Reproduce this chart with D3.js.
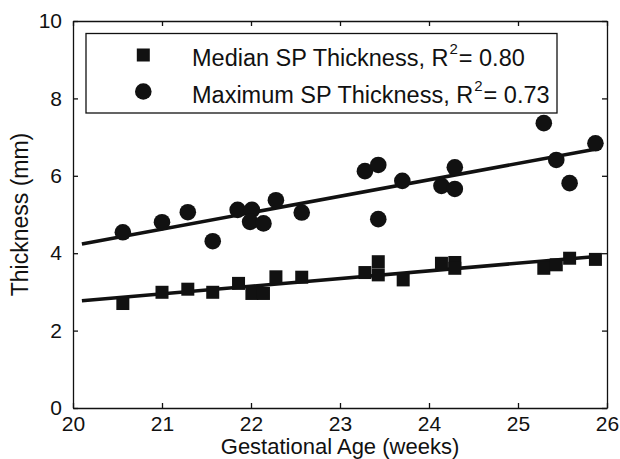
<!DOCTYPE html>
<html>
<head>
<meta charset="utf-8">
<script src="https://cdn.jsdelivr.net/npm/d3@7"></script>
<style>
  body { margin: 0; background: #fff; }
  text { font-family: "Liberation Sans", Arial, Helvetica, sans-serif; fill: #111; }
</style>
</head>
<body>
<div id="chart"></div>
<script>
// ==============================
// Data
// ==============================
var ageWeeks = [20.56, 21.00, 21.29, 21.57, 21.86, 22.01, 22.14, 22.28, 22.57,
  23.28, 23.43, 23.43, 23.71, 24.14, 24.29, 24.29, 25.29, 25.43, 25.58, 25.87];
var medianThickness = [2.70, 2.99, 3.07, 2.99, 3.22, 2.96, 2.96, 3.39, 3.38,
  3.50, 3.78, 3.44, 3.31, 3.74, 3.76, 3.61, 3.61, 3.70, 3.87, 3.84];

var maxAge = [20.56, 21.00, 21.29, 21.57, 21.85, 22.01, 21.99, 22.14, 22.28, 22.57,
  23.28, 23.43, 23.43, 23.70, 24.14, 24.29, 24.29, 25.29, 25.43, 25.58, 25.87];
var maxThickness = [4.54, 4.80, 5.06, 4.31, 5.12, 5.12, 4.81, 4.77, 5.37, 5.05,
  6.12, 6.28, 4.88, 5.87, 5.74, 6.22, 5.66, 7.36, 6.41, 5.81, 6.84];

// fitted lines: [start, end] of each regression line
var fitAge = [20.1, 25.85];
var medianFit = [2.77, 3.91];
var maxFit = [4.24, 6.68];

var xTicks = [20, 21, 22, 23, 24, 25, 26];
var yTicks = [0, 2, 4, 6, 8, 10];
var legendLabels = [
  { name: "Median SP Thickness, R", r2: "= 0.80", shape: "square" },
  { name: "Maximum SP Thickness, R", r2: "= 0.73", shape: "circle" }
];

// ==============================
// Chart setup
// ==============================
var svgWidth = 620;
var svgHeight = 459;

var margin = { top: 21, right: 13, bottom: 51, left: 73 };
var width = svgWidth - margin.left - margin.right;
var height = svgHeight - margin.top - margin.bottom;

var ink = "#111";

var svg = d3.select("#chart")
  .append("svg")
  .attr("width", svgWidth)
  .attr("height", svgHeight);

var chartGroup = svg.append("g")
  .attr("transform", `translate(${margin.left}, ${margin.top})`);

var xScale = d3.scaleLinear().domain([20, 26]).range([0, width]);
var yScale = d3.scaleLinear().domain([0, 10]).range([height, 0]);

// axes, ticks pointing inward like matlab
var bottomAxis = d3.axisBottom(xScale).tickValues(xTicks).tickFormat(d3.format("d"))
  .tickSizeInner(-5).tickSizeOuter(0).tickPadding(8);
var leftAxis = d3.axisLeft(yScale).tickValues(yTicks).tickFormat(d3.format("d"))
  .tickSizeInner(-5).tickSizeOuter(0).tickPadding(11);
var topAxis = d3.axisTop(xScale).tickValues(xTicks).tickFormat("")
  .tickSizeInner(-5).tickSizeOuter(0);
var rightAxis = d3.axisRight(yScale).tickValues(yTicks).tickFormat("")
  .tickSizeInner(-5).tickSizeOuter(0);

function styleAxis(g) {
  g.selectAll("path, line").attr("stroke", ink).attr("stroke-width", 1.3);
  g.selectAll("text")
    .style("font-size", "21px")
    .attr("fill", ink);
}

chartGroup.append("g")
  .attr("transform", `translate(0, ${height})`)
  .call(bottomAxis)
  .call(styleAxis);

chartGroup.append("g")
  .call(leftAxis)
  .call(styleAxis);

chartGroup.append("g")
  .call(topAxis)
  .call(styleAxis);

chartGroup.append("g")
  .attr("transform", `translate(${width}, 0)`)
  .call(rightAxis)
  .call(styleAxis);

// regression lines
var line = d3.line()
  .x(d => xScale(d[0]))
  .y(d => yScale(d[1]));

chartGroup.append("path")
  .datum(fitAge.map((a, i) => [a, medianFit[i]]))
  .attr("d", line)
  .attr("fill", "none")
  .attr("stroke", ink)
  .attr("stroke-width", 3.6);

chartGroup.append("path")
  .datum(fitAge.map((a, i) => [a, maxFit[i]]))
  .attr("d", line)
  .attr("fill", "none")
  .attr("stroke", ink)
  .attr("stroke-width", 3.6);

// median thickness squares
var sq = 13;
chartGroup.selectAll(".median")
  .data(ageWeeks)
  .enter()
  .append("rect")
  .attr("class", "median")
  .attr("x", d => xScale(d) - sq / 2)
  .attr("y", (d, i) => yScale(medianThickness[i]) - sq / 2)
  .attr("width", sq)
  .attr("height", sq)
  .attr("fill", ink);

// maximum thickness circles
chartGroup.selectAll(".max")
  .data(maxAge)
  .enter()
  .append("circle")
  .attr("class", "max")
  .attr("cx", d => xScale(d))
  .attr("cy", (d, i) => yScale(maxThickness[i]))
  .attr("r", 8.3)
  .attr("fill", ink);

// legend
var legend = svg.append("g");

legend.append("rect")
  .attr("x", 86)
  .attr("y", 33.5)
  .attr("width", 471)
  .attr("height", 79.5)
  .attr("fill", "#fff")
  .attr("stroke", ink)
  .attr("stroke-width", 1.3);

var rows = legend.selectAll(".row")
  .data(legendLabels)
  .enter()
  .append("g")
  .attr("class", "row")
  .attr("transform", (d, i) => `translate(0, ${55 + i * 36.5})`);

rows.filter(d => d.shape === "square")
  .append("rect")
  .attr("x", 143.3 - sq / 2)
  .attr("y", -sq / 2)
  .attr("width", sq)
  .attr("height", sq)
  .attr("fill", ink);

rows.filter(d => d.shape === "circle")
  .append("circle")
  .attr("cx", 143.3)
  .attr("cy", 0)
  .attr("r", 8.3)
  .attr("fill", ink);

var labelText = rows.append("text")
  .attr("x", 192)
  .attr("y", 11)
  .style("font-size", "23.5px");

labelText.append("tspan").text(d => d.name);
labelText.append("tspan")
  .attr("dy", -12)
  .attr("dx", 1)
  .style("font-size", "15px")
  .text("2");
labelText.append("tspan")
  .attr("dy", 12)
  .attr("dx", 1)
  .text(d => d.r2);

// axis titles
svg.append("text")
  .attr("x", margin.left + width / 2)
  .attr("y", 454)
  .attr("text-anchor", "middle")
  .style("font-size", "22px")
  .text("Gestational Age (weeks)");

svg.append("text")
  .attr("transform", "rotate(-90)")
  .attr("x", -(margin.top + height / 2))
  .attr("y", 28)
  .attr("text-anchor", "middle")
  .style("font-size", "23px")
  .text("Thickness (mm)");
</script>
</body>
</html>
